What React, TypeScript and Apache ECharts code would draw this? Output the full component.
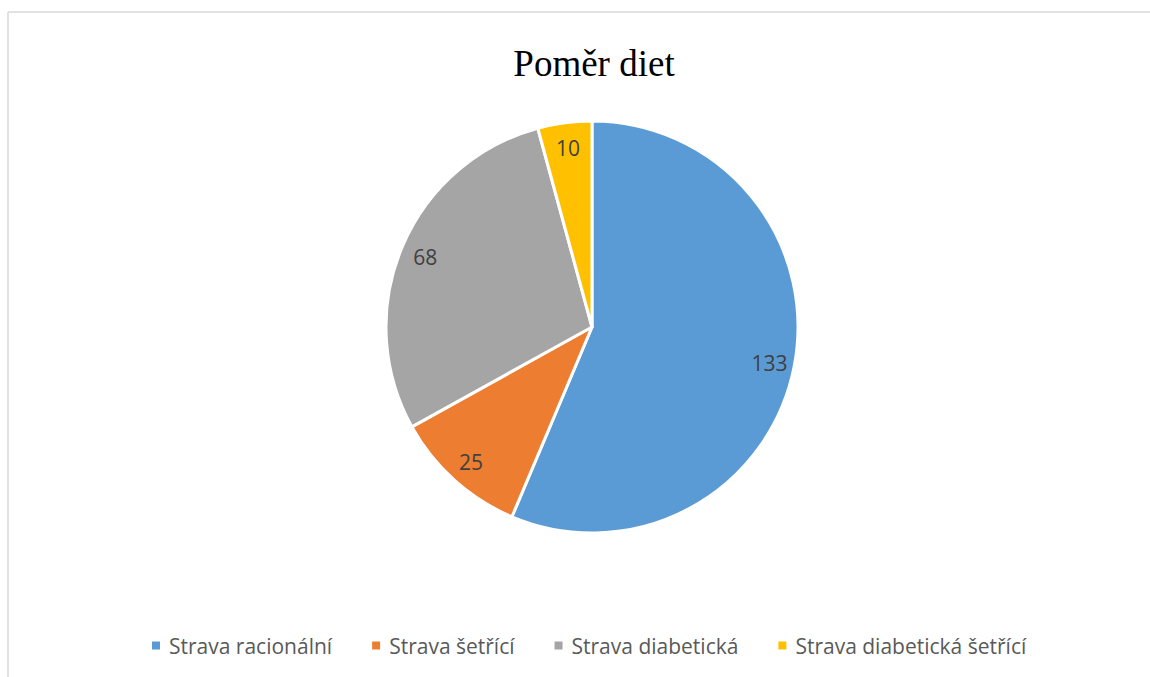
import React, { useEffect, useRef } from "react";
import * as echarts from "echarts";

const titleText = "Poměr diet";
const categories = ["Strava racionální", "Strava šetřící", "Strava diabetická", "Strava diabetická šetřící"];
const values = [133, 25, 68, 10];
const colors = ["#5B9BD5", "#ED7D31", "#A5A5A5", "#FFC000"];

export default function App() {
  const ref = useRef<HTMLDivElement>(null);
  useEffect(() => {
    if (!ref.current) return;
    const chart = echarts.init(ref.current, null, { renderer: "svg" });
    const data = categories.map((name, i) => ({ name, value: values[i], itemStyle: { color: colors[i] } }));
    chart.setOption({
      animation: false,
      backgroundColor: "#ffffff",
      title: {
        text: titleText,
        left: 589,
        textAlign: "center",
        top: 40,
        textStyle: { fontFamily: "Liberation Serif", fontSize: 37, fontWeight: "normal", color: "#000000" },
      },
      legend: {
        data: categories,
        left: 145,
        top: 630,
        icon: "rect",
        itemWidth: 10,
        itemHeight: 10,
        itemGap: 38,
        textStyle: { fontFamily: "Open Sans", fontSize: 21, color: "#595959", padding: [0, 0, 0, 3] },
      },
      graphic: [
        { type: "line", shape: { x1: 8, y1: 12, x2: 1150, y2: 12 }, style: { stroke: "#d9d9d9", lineWidth: 1.5 } },
        { type: "line", shape: { x1: 8, y1: 12, x2: 8, y2: 677 }, style: { stroke: "#d9d9d9", lineWidth: 1.5 } },
      ],
      series: [
        {
          type: "pie",
          center: [592, 327],
          radius: [0, 206],
          startAngle: 90,
          clockwise: true,
          data,
          label: { show: false },
          labelLine: { show: false },
          itemStyle: { borderColor: "#ffffff", borderWidth: 3 },
        },
        {
          type: "pie",
          center: [592, 327],
          radius: [150, 206],
          startAngle: 90,
          clockwise: true,
          silent: true,
          data: categories.map((name, i) => ({ name: name + " ", value: values[i] })),
          itemStyle: { color: "rgba(0,0,0,0)", borderWidth: 0 },
          label: {
            show: true,
            position: "inside",
            formatter: "{c}",
            fontFamily: "Open Sans",
            fontSize: 21,
            color: "#404040",
          },
          labelLine: { show: false },
          emphasis: { disabled: true },
        },
      ],
    });
    return () => chart.dispose();
  }, []);
  return <div ref={ref} style={{ position: "absolute", left: 0, top: 0, width: 1150, height: 677 }} />;
}
